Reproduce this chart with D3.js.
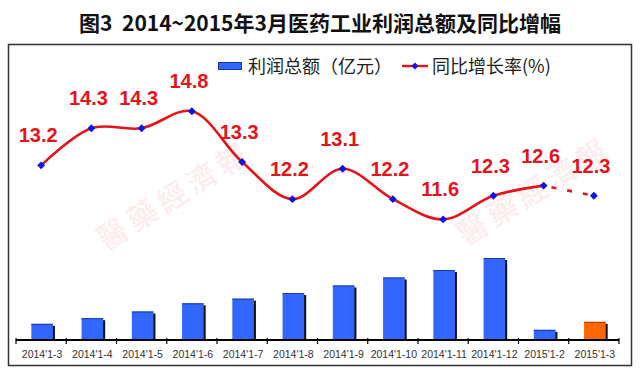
<!DOCTYPE html>
<html>
<head>
<meta charset="utf-8">
<script src="https://cdn.jsdelivr.net/npm/d3@7/dist/d3.min.js"></script>
<style>
  html, body { margin: 0; padding: 0; background: #fff; }
  svg { display: block; }
</style>
</head>
<body>
<svg id="chart" width="640" height="379"></svg>
<script>
// ---- data ----
const categories = ["2014'1-3", "2014'1-4", "2014'1-5", "2014'1-6", "2014'1-7", "2014'1-8",
                    "2014'1-9", "2014'1-10", "2014'1-11", "2014'1-12", "2015'1-2", "2015'1-3"];
const profit = [485, 655, 855, 1100, 1240, 1410, 1635, 1875, 2100, 2460, 305, 545];   // 利润总额（亿元）
const growth = [13.2, 14.3, 14.3, 14.8, 13.3, 12.2, 13.1, 12.2, 11.6, 12.3, 12.6, 12.3]; // 同比增长率(%)
const growthLabels = ["13.2", "14.3", "14.3", "14.8", "13.3", "12.2", "13.1", "12.2", "11.6", "12.3", "12.6", "12.3"];
const titleText = "图3  2014~2015年3月医药工业利润总额及同比增幅";
const legendBar = "利润总额（亿元）";
const legendLine = "同比增长率(%)";
const watermark = "醫藥經濟報";

// ---- layout ----
const svg = d3.select("#chart");
const blue = "#3366ff", orange = "#ff6600", red = "#e3141c", markerBlue = "#0a14e6";

const x = d3.scaleBand().domain(categories).range([16, 619]).padding(0);
const step = x.bandwidth();
const barW = step * 0.43;
const yBar = d3.scaleLinear().domain([0, 3000]).range([340, 240]);
const yLine = d3.scaleLinear().domain([8, 17]).range([341, 37]);
const cx = c => x(c) + step / 2;

// title
svg.append("text")
  .attr("x", 320).attr("y", 31)
  .attr("text-anchor", "middle")
  .attr("font-family", "'Noto Sans CJK SC', sans-serif")
  .attr("font-weight", "bold")
  .attr("font-size", 21)
  .attr("fill", "#111")
  .style("white-space", "pre")
  .text(titleText);

// frame
svg.append("rect")
  .attr("x", 8.5).attr("y", 44.5).attr("width", 623).attr("height", 321)
  .attr("fill", "#fff").attr("stroke", "#333").attr("stroke-width", 1.5);

// watermark (faint)
[[180, 205], [540, 200]].forEach(([wx, wy]) => {
  svg.append("text")
    .attr("transform", `translate(${wx},${wy}) rotate(-32)`)
    .attr("text-anchor", "middle")
    .attr("font-family", "'Noto Sans CJK TC', serif")
    .attr("font-weight", "bold")
    .attr("font-size", 30)
    .attr("letter-spacing", 5)
    .attr("fill", "#e05050")
    .attr("fill-opacity", 0.1)
    .text(watermark);
});

// bars (shadow + bar)
const bars = svg.append("g");
bars.selectAll("rect.shadow").data(categories).join("rect")
  .attr("class", "shadow")
  .attr("x", c => cx(c) - barW / 2 + 1 + 2)
  .attr("y", (c, i) => yBar(profit[i]) + 2)
  .attr("width", barW)
  .attr("height", (c, i) => 340 - yBar(profit[i]) - 2)
  .attr("fill", "#111");
bars.selectAll("rect.bar").data(categories).join("rect")
  .attr("class", "bar")
  .attr("x", c => cx(c) - barW / 2 + 1)
  .attr("y", (c, i) => yBar(profit[i]))
  .attr("width", barW)
  .attr("height", (c, i) => 340 - yBar(profit[i]))
  .attr("fill", (c, i) => i === categories.length - 1 ? orange : blue);
bars.selectAll("line.top").data(categories).join("line")
  .attr("class", "top")
  .attr("x1", c => cx(c) - barW / 2 + 1)
  .attr("x2", c => cx(c) + barW / 2 + 1)
  .attr("y1", (c, i) => yBar(profit[i]) + 0.5)
  .attr("y2", (c, i) => yBar(profit[i]) + 0.5)
  .attr("stroke", (c, i) => i === categories.length - 1 ? "#a84000" : "#1d3a9a")
  .attr("stroke-width", 1);

// x axis
const axis = svg.append("g").attr("transform", "translate(0,340)");
axis.append("line").attr("x1", 16).attr("x2", 619).attr("y1", 0).attr("y2", 0)
  .attr("stroke", "#000").attr("stroke-width", 2);
axis.selectAll("line.tick").data(categories.concat(["end"])).join("line")
  .attr("class", "tick")
  .attr("x1", (c, i) => 16 + i * step).attr("x2", (c, i) => 16 + i * step)
  .attr("y1", -2).attr("y2", 4)
  .attr("stroke", "#000").attr("stroke-width", 1.2);
axis.selectAll("text").data(categories).join("text")
  .attr("x", c => cx(c) + 1)
  .attr("y", 18)
  .attr("text-anchor", "middle")
  .attr("font-family", "'Liberation Sans', Arial, sans-serif")
  .attr("font-size", 10.5)
  .attr("fill", "#333")
  .text(c => c);

// line
const pts = categories.map((c, i) => [cx(c), yLine(growth[i])]);
const solid = pts.slice(0, categories.length - 1);
svg.append("path")
  .attr("d", d3.line().curve(d3.curveCatmullRom.alpha(0.5))(solid))
  .attr("fill", "none").attr("stroke", red).attr("stroke-width", 2.6);
svg.append("path")
  .attr("d", d3.line()(pts.slice(categories.length - 2)))
  .attr("fill", "none").attr("stroke", red).attr("stroke-width", 2.6)
  .attr("stroke-dasharray", "5,11").attr("stroke-dashoffset", -8);

// markers
const diamond = d3.symbol().type(d3.symbolDiamond2).size(40);
svg.selectAll("path.mk").data(pts).join("path")
  .attr("class", "mk")
  .attr("transform", d => `translate(${d[0]},${d[1]})`)
  .attr("d", diamond)
  .attr("fill", markerBlue);

// labels
svg.selectAll("text.lbl").data(pts).join("text")
  .attr("class", "lbl")
  .attr("x", d => d[0] - 3)
  .attr("y", d => d[1] - 23)
  .attr("text-anchor", "middle")
  .attr("font-family", "'Liberation Sans', Arial, sans-serif")
  .attr("font-weight", "bold")
  .attr("font-size", 20)
  .attr("fill", red)
  .text((d, i) => growthLabels[i]);

// legend
const lg = svg.append("g");
lg.append("rect").attr("x", 218.5).attr("y", 62.5).attr("width", 23).attr("height", 7)
  .attr("fill", blue).attr("stroke", "#1d3a9a").attr("stroke-width", 1);
lg.append("text").attr("x", 248).attr("y", 73)
  .attr("font-family", "'Noto Sans CJK SC', sans-serif")
  .attr("font-size", 18).attr("fill", "#222")
  .text(legendBar);
lg.append("line").attr("x1", 402).attr("x2", 428).attr("y1", 66).attr("y2", 66)
  .attr("stroke", red).attr("stroke-width", 2.4);
lg.append("path").attr("transform", "translate(415,66)")
  .attr("d", d3.symbol().type(d3.symbolDiamond2).size(30))
  .attr("fill", markerBlue);
lg.append("text").attr("x", 432).attr("y", 73)
  .attr("font-family", "'Noto Sans CJK SC', sans-serif")
  .attr("font-size", 18).attr("fill", "#222")
  .text(legendLine);
</script>
</body>
</html>
